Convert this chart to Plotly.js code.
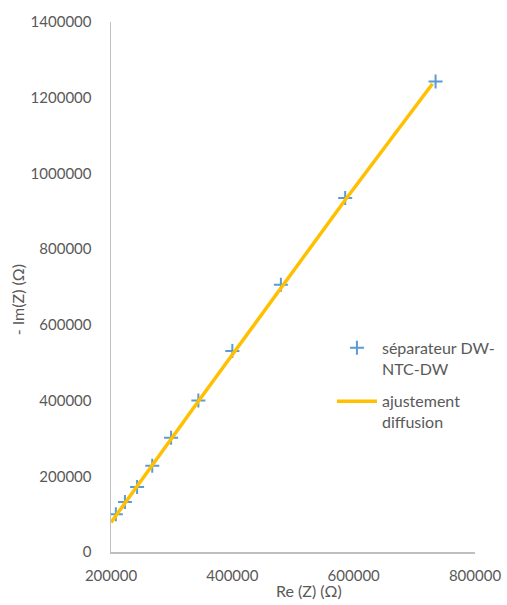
<!DOCTYPE html>
<html>
<head>
<meta charset="utf-8">
<script src="https://cdn.plot.ly/plotly-3.0.1.min.js"></script>
<style>html,body{margin:0;padding:0;background:#fff}#chart{width:507px;height:605px}</style>
</head>
<body>
<div id="chart"></div>
<script>
// Measured data: séparateur DW-NTC-DW
var reZ = [208000, 223000, 243000, 268000, 299000, 344000, 400000, 480000, 586000, 735000];
var imZ = [100000, 132000, 172000, 228000, 302000, 400000, 531000, 706000, 935000, 1243000];
// Diffusion fit line
var fitRe = [200000, 344000, 586000, 730000];
var fitIm = [78000, 398000, 930000, 1237000];
// Axis ticks
var xTicks = [200000, 400000, 600000, 800000];
var yTicks = [0, 200000, 400000, 600000, 800000, 1000000, 1200000, 1400000];

var txt = '#595959';
var font = 'Lato, "Open Sans", sans-serif';

var traces = [
  {x: reZ, y: imZ, type: 'scatter', mode: 'markers', name: 'séparateur DW-<br>NTC-DW', legendgroup: 'a',
   marker: {symbol: 'cross-thin', size: 10, color: '#5b9bd5', line: {color: '#5b9bd5', width: 2}}},
  {x: fitRe, y: fitIm, type: 'scatter', mode: 'lines', name: 'ajustement<br>diffusion', legendgroup: 'b',
   line: {color: '#ffc000', width: 3.5}}
];

var layout = {
  width: 507, height: 605,
  margin: {l: 111, r: 32, t: 22, b: 53, pad: 0, autoexpand: false},
  paper_bgcolor: '#fff', plot_bgcolor: '#fff',
  font: {family: font, size: 15, color: txt},
  showlegend: true,
  legend: {x: 0.607, y: 0.4175, xanchor: 'left', yanchor: 'top', valign: 'top', bgcolor: 'rgba(0,0,0,0)',
           font: {family: font, size: 16, color: txt}, tracegroupgap: 9, itemwidth: 40},
  xaxis: {range: [200000, 800000], tickvals: xTicks, ticktext: xTicks.map(String),
          showgrid: false, zeroline: false, showline: true, linecolor: '#bfbfbf', linewidth: 1.5,
          ticks: 'outside', ticklen: 9, tickcolor: 'rgba(0,0,0,0)',
          tickfont: {family: font, size: 15, color: txt}},
  yaxis: {range: [0, 1400000], tickvals: yTicks, ticktext: yTicks.map(String),
          showgrid: false, zeroline: false, showline: true, linecolor: '#bfbfbf', linewidth: 1.5,
          ticks: 'outside', ticklen: 15, tickcolor: 'rgba(0,0,0,0)',
          tickfont: {family: font, size: 15, color: txt}},
  annotations: [
    {text: 'Re (Z) (Ω)', xref: 'paper', yref: 'paper', x: 0.545, y: -0.072, xanchor: 'center', yanchor: 'middle',
     showarrow: false, font: {family: font, size: 16, color: txt}},
    {text: '- Im(Z) (Ω)', xref: 'paper', yref: 'paper', x: -0.258, y: 0.475, xanchor: 'center', yanchor: 'middle',
     textangle: -90, showarrow: false, font: {family: font, size: 16, color: txt}}
  ]
};

Plotly.newPlot('chart', traces, layout, {displayModeBar: false, staticPlot: true});
</script>
</body>
</html>
